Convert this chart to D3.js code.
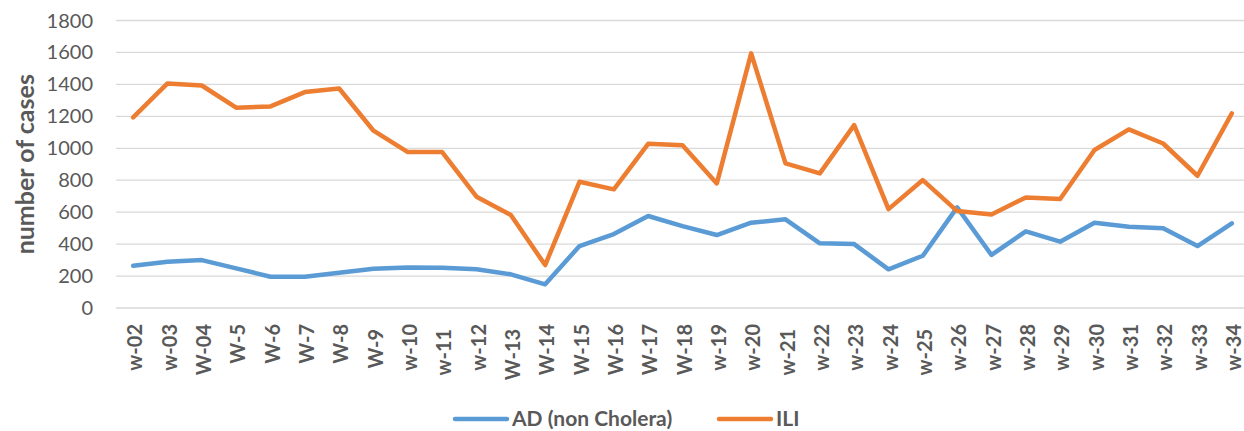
<!DOCTYPE html>
<meta charset="utf-8">
<style>
body { margin: 0; background: #fff; }
svg { display: block; font-family: Lato, "Liberation Sans", sans-serif; }
.grid line { stroke: #d9d9d9; stroke-width: 1.3; }
.tick-label { fill: #595959; font-size: 20px; }
.xlab { fill: #595959; font-size: 20px; font-weight: bold; white-space: pre; }
.title { fill: #595959; font-size: 25px; font-weight: bold; }
.legend text { fill: #595959; font-size: 21px; font-weight: bold; }
</style>
<svg width="1244" height="431" class="top"></svg>
<script src="https://d3js.org/d3.v7.min.js"></script>
<script>

// week labels as written in the source sheet (some have a trailing space)
var weeks = ["w-02", "w-03", "W-04", "W-5", "W-6", "W-7", "W-8", "W-9 ", "w-10", "w-11 ", "w-12",
  "W-13 ", "W-14", "W-15", "W-16", "W-17", "W-18", "w-19", "w-20", "w-21 ", "w-22", "w-23",
  "w-24", "w-25 ", "w-26", "w-27", "w-28", "w-29", "w-30", "w-31", "w-32", "w-33", "w-34"];

var adValues = [265, 290, 300, 248, 196, 196, 221, 246, 254, 252, 242,
  211, 148, 388, 463, 576, 513, 457, 534, 555, 405, 400,
  242, 327, 630, 332, 480, 415, 534, 509, 499, 388, 530];

var iliValues = [1193, 1406, 1393, 1254, 1262, 1352, 1374, 1110, 976, 976, 697,
  582, 269, 790, 743, 1028, 1019, 780, 1594, 905, 843, 1145,
  619, 801, 607, 586, 692, 682, 989, 1118, 1030, 828, 1218];

var yTicks = [0, 200, 400, 600, 800, 1000, 1200, 1400, 1600, 1800];

var seriesNames = ["AD (non Cholera)", "ILI"];
var seriesColors = ["#5b9bd5", "#ed7d31"];

var svg = d3.select(".top");

var x = d3.scalePoint()
    .domain(d3.range(weeks.length))
    .range([116, 1249])
    .padding(0.5);

var y = d3.scaleLinear()
    .domain([0, 1800])
    .range([308, 20.5]);

// gridlines
svg.append("g")
    .attr("class", "grid")
  .selectAll("line")
  .data(yTicks)
  .enter().append("line")
    .attr("x1", 116)
    .attr("x2", 1244)
    .attr("y1", function(d) { return y(d); })
    .attr("y2", function(d) { return y(d); });

// y tick labels
svg.append("g")
  .selectAll("text")
  .data(yTicks)
  .enter().append("text")
    .attr("class", "tick-label")
    .attr("x", 93)
    .attr("y", function(d) { return y(d); })
    .attr("dy", "0.35em")
    .attr("text-anchor", "end")
    .text(function(d) { return d; });

svg.append("text")
    .attr("class", "title")
    .attr("transform", "translate(34," + y(900) + ") rotate(-90)")
    .attr("text-anchor", "middle")
    .text("number of cases");

// x labels
svg.append("g")
  .selectAll("text")
  .data(weeks)
  .enter().append("text")
    .attr("class", "xlab")
    .attr("transform", function(d, i) { return "translate(" + (x(i) + 9) + ",324) rotate(-90)"; })
    .attr("text-anchor", "end")
    .text(function(d) { return d; });

var line = d3.line()
    .x(function(d, i) { return x(i); })
    .y(function(d) { return y(d); });

[adValues, iliValues].forEach(function(vals, k) {
  svg.append("path")
      .datum(vals)
      .attr("fill", "none")
      .attr("stroke", seriesColors[k])
      .attr("stroke-width", 4.5)
      .attr("stroke-linejoin", "round")
      .attr("stroke-linecap", "round")
      .attr("d", line);
});

// legend
var legendX = [455, 719];
var legend = svg.selectAll(".legend")
  .data(seriesNames)
  .enter().append("g")
    .attr("class", "legend")
    .attr("transform", function(d, i) { return "translate(" + legendX[i] + ",419)"; });

legend.append("line")
    .attr("x1", 0)
    .attr("x2", 52)
    .attr("stroke", function(d, i) { return seriesColors[i]; })
    .attr("stroke-width", 4.5)
    .attr("stroke-linecap", "round");

legend.append("text")
    .attr("x", 57)
    .attr("dy", "0.35em")
    .text(function(d) { return d; });

</script>
